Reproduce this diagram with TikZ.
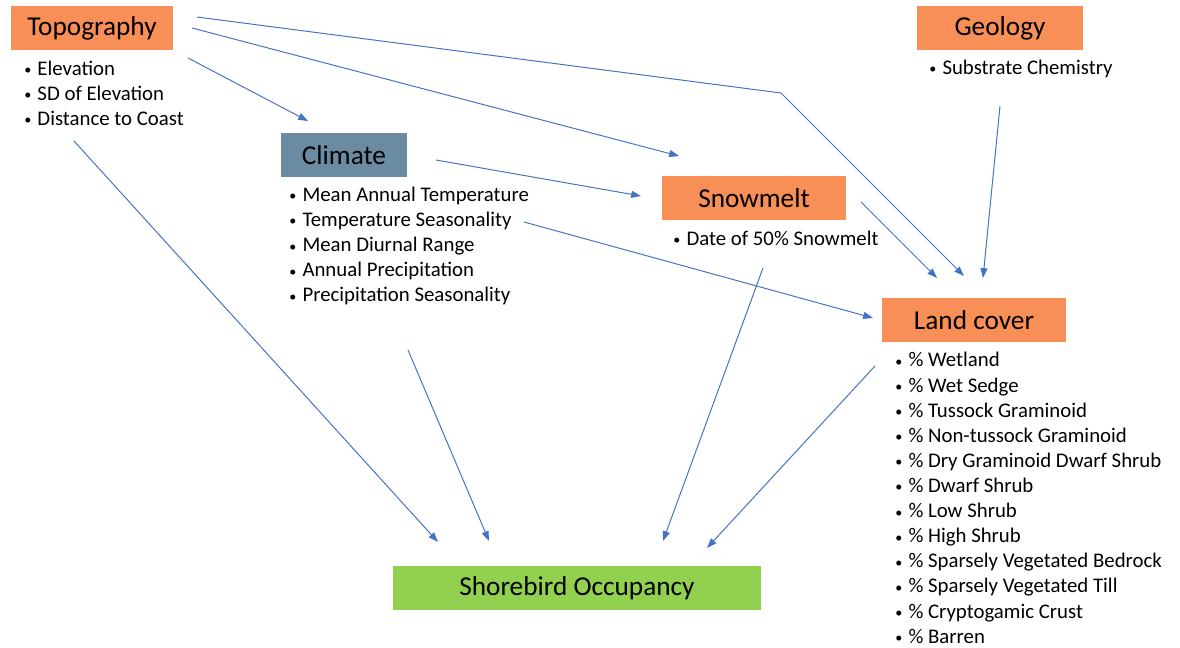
\documentclass[tikz,border=0pt]{standalone}
\usepackage{fontspec}
\setmainfont{Carlito}
\usetikzlibrary{arrows.meta, positioning}
\definecolor{boxorange}{RGB}{248, 143, 86}
\definecolor{boxslate}{RGB}{106, 139, 161}
\definecolor{boxgreen}{RGB}{146, 208, 80}
\definecolor{arrowblue}{RGB}{68, 114, 196}
\newcommand{\itm}{\makebox[9.4pt][l]{\raisebox{0.4pt}{\fontsize{10}{10}\selectfont\textbullet}}}

\begin{document}
\begin{tikzpicture}[
    x=0.025cm, y=-0.025cm,
    factorbox/.style={
        rectangle, fill=boxorange, inner sep=0pt, minimum height=1.1cm,
        font=\fontsize{19.4}{23}\selectfont
    },
    itemlist/.style={
        anchor=base west, inner sep=0pt, align=left,
        font=\fontsize{14.8}{17.86}\selectfont
    },
    linkarrow/.style={
        -{Triangle[length=7pt, width=5pt]}, line width=0.7pt, color=arrowblue
    }
]
\useasboundingbox (0,0) rectangle (1180,647);

% Boxes
\node[factorbox, minimum width=4.03cm] (topo) at (92,28) {Topography};
\node[factorbox, minimum width=4.13cm] (geology) at (1000,28) {Geology};
\node[factorbox, fill=boxslate, minimum width=3.15cm] (climate) at (344,155) {Climate};
\node[factorbox, minimum width=4.6cm, minimum height=1.08cm] (snowmelt) at (754,198) {Snowmelt};
\node[factorbox, minimum width=4.58cm] (landcover) at (974,320) {Land cover};
\node[factorbox, fill=boxgreen, minimum width=9.18cm, minimum height=1.08cm] (occupancy) at (577,588) {Shorebird Occupancy};

% Bullet lists (placed at the baseline of their last line)
\node[itemlist] (topoList) at (24,125.4) {\itm Elevation\\\itm SD of Elevation\\\itm Distance to Coast};
\node[itemlist] (geologyList) at (929,74) {\itm Substrate Chemistry};
\node[itemlist] (climateList) at (289,301.8) {\itm Mean Annual Temperature\\\itm Temperature Seasonality\\\itm Mean Diurnal Range\\\itm Annual Precipitation\\\itm Precipitation Seasonality};
\node[itemlist] (snowmeltList) at (673,245) {\itm Date of 50\% Snowmelt};
\node[itemlist] (landcoverList) at (895,643.2) {\itm \% Wetland\\\itm \% Wet Sedge\\\itm \% Tussock Graminoid\\\itm \% Non-tussock Graminoid\\\itm \% Dry Graminoid Dwarf Shrub\\\itm \% Dwarf Shrub\\\itm \% Low Shrub\\\itm \% High Shrub\\\itm \% Sparsely Vegetated Bedrock\\\itm \% Sparsely Vegetated Till\\\itm \% Cryptogamic Crust\\\itm \% Barren};

% Arrow ends
\coordinate (topoToClimate) at (188,58);
\coordinate (climateFromTopo) at (308,121);
\coordinate (topoToSnow) at (192,28);
\coordinate (snowFromTopo) at (679,156);
\coordinate (topoToLand) at (197,17);
\coordinate (topoBend) at (781,93);
\coordinate (landFromTopo) at (964,276);
\coordinate (topoToOcc) at (74,141);
\coordinate (occFromTopo) at (438,542);
\coordinate (climateToSnow) at (436,160);
\coordinate (snowFromClimate) at (641,196);
\coordinate (climateToLand) at (524,222);
\coordinate (landFromClimate) at (873,318);
\coordinate (climateToOcc) at (408,350);
\coordinate (occFromClimate) at (489,541);
\coordinate (snowToLand) at (861,202);
\coordinate (landFromSnow) at (937,278);
\coordinate (snowToOcc) at (763,268);
\coordinate (occFromSnow) at (663,541);
\coordinate (geologyToLand) at (1000,106);
\coordinate (landFromGeology) at (983,278);
\coordinate (landToOcc) at (875,366);
\coordinate (occFromLand) at (707,548);

% Connections
\draw[linkarrow] (topoToClimate) -- (climateFromTopo);
\draw[linkarrow] (topoToSnow) -- (snowFromTopo);
\draw[linkarrow] (topoToLand) -- (topoBend) -- (landFromTopo);
\draw[linkarrow] (topoToOcc) -- (occFromTopo);
\draw[linkarrow] (climateToSnow) -- (snowFromClimate);
\draw[linkarrow] (climateToLand) -- (landFromClimate);
\draw[linkarrow] (climateToOcc) -- (occFromClimate);
\draw[linkarrow] (snowToLand) -- (landFromSnow);
\draw[linkarrow] (snowToOcc) -- (occFromSnow);
\draw[linkarrow] (geologyToLand) -- (landFromGeology);
\draw[linkarrow] (landToOcc) -- (occFromLand);

\end{tikzpicture}
\end{document}
